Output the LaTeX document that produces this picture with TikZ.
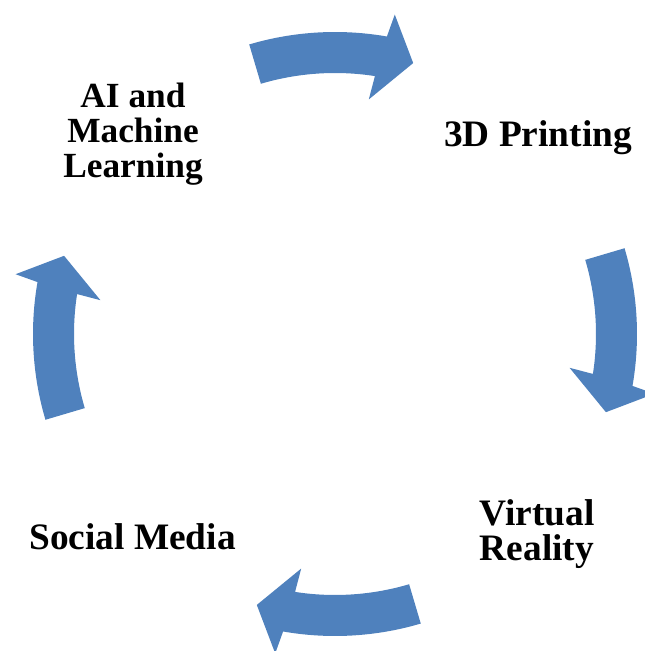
\documentclass[tikz,border=0pt]{standalone}
\usepackage{fontspec}
\setmainfont{Liberation Serif}
\definecolor{arrowblue}{HTML}{4F81BD}
\tikzset{
  cyclearrow/.style={fill=arrowblue, draw=none},
  label text/.style={font=\fontsize{28}{26.25}\selectfont\bfseries, align=center, inner sep=0pt, text=black},
  small label/.style={label text, font=\fontsize{26.5}{26.25}\selectfont\bfseries},
}
\newcommand{\cyclearrowpath}{%
  (106.5:302) arc[start angle=106.5, end angle=80.1, radius=302]
  -- (79.4:325) -- (73.9:282) -- (81.8:237) -- (81.2:261)
  arc[start angle=81.2, end angle=106.5, radius=261] -- cycle}
\begin{document}
\begin{tikzpicture}[x=0.75pt, y=0.75pt]
  \useasboundingbox (0,0) rectangle (644,651);
  \coordinate (C) at (335,317);
  \foreach \r in {0,-90,-180,-270}{
    \begin{scope}[shift={(C)}, rotate=\r]
      \fill[cyclearrow] \cyclearrowpath;
    \end{scope}
  }
  \node[small label] (ai) at (133,516.5) {AI and\\Machine\\Learning};
  \node[label text, anchor=base] (print) at (538,504) {3D Printing};
  \node[label text] (vr) at (537,117) {Virtual\\Reality};
  \node[label text, anchor=base] (social) at (132.5,101) {Social Media};
\end{tikzpicture}
\end{document}
